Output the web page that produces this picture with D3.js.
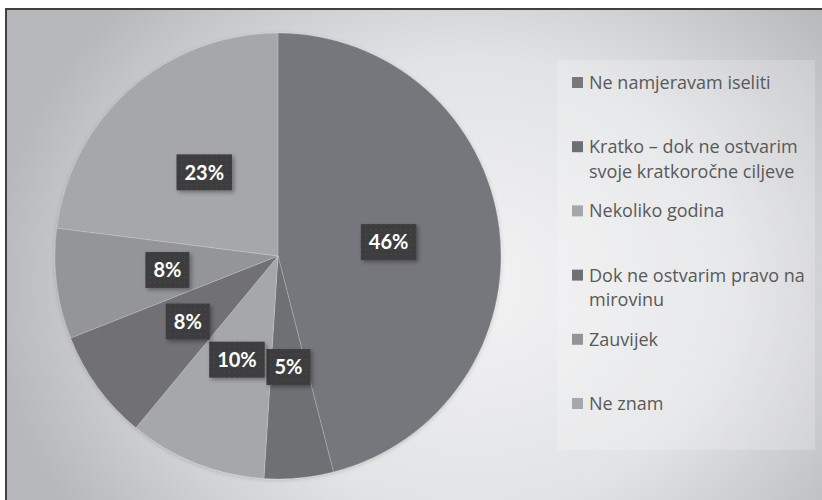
<!DOCTYPE html>
<html>
<head>
<meta charset="utf-8">
<script src="https://cdn.jsdelivr.net/npm/d3@7"></script>
<style>
  html, body { margin: 0; padding: 0; background: #ffffff; }
  svg { display: block; }
</style>
</head>
<body>
<svg id="chart" width="822" height="500"></svg>
<script>
// ---- data ----
const categories = [
  "Ne namjeravam iseliti",
  "Kratko – dok ne ostvarim svoje kratkoročne ciljeve",
  "Nekoliko godina",
  "Dok ne ostvarim pravo na mirovinu",
  "Zauvijek",
  "Ne znam"
];
const legendLines = [
  ["Ne namjeravam iseliti"],
  ["Kratko – dok ne ostvarim", "svoje kratkoročne ciljeve"],
  ["Nekoliko godina"],
  ["Dok ne ostvarim pravo na", "mirovinu"],
  ["Zauvijek"],
  ["Ne znam"]
];
const values = [46, 5, 10, 8, 8, 23];
const valueLabels = ["46%", "5%", "10%", "8%", "8%", "23%"];
const colors = ["#76777b", "#6e6f73", "#a6a7ab", "#6f7074", "#949599", "#a6a7ab"];

// ---- layout ----
const W = 822, H = 500;
const cx = 278, cy = 256, R = 223;

const svg = d3.select("#chart");
const defs = svg.append("defs");

// background gradient
const bg = defs.append("radialGradient")
  .attr("id", "bgGrad")
  .attr("gradientUnits", "userSpaceOnUse")
  .attr("cx", 470).attr("cy", 285).attr("r", 480)
  .attr("gradientTransform", "translate(470,285) scale(1,0.85) translate(-470,-285)");
bg.append("stop").attr("offset", 0).attr("stop-color", "#f3f3f4");
bg.append("stop").attr("offset", 0.55).attr("stop-color", "#e2e3e5");
bg.append("stop").attr("offset", 1).attr("stop-color", "#b7b8bc");

// dotted pattern for label boxes
const pat = defs.append("pattern")
  .attr("id", "dots").attr("patternUnits", "userSpaceOnUse")
  .attr("width", 5).attr("height", 5);
pat.append("rect").attr("width", 5).attr("height", 5).attr("fill", "#3e3e41");
pat.append("rect").attr("x", 2).attr("y", 2).attr("width", 1).attr("height", 1).attr("fill", "#4f4f53");

// shadow filter for label boxes
const sh = defs.append("filter").attr("id", "lblShadow")
  .attr("x", "-30%").attr("y", "-30%").attr("width", "170%").attr("height", "170%");
sh.append("feDropShadow").attr("dx", 2).attr("dy", 2).attr("stdDeviation", 2)
  .attr("flood-color", "#000").attr("flood-opacity", 0.35);

// soft pie shadow
const ps = defs.append("filter").attr("id", "pieShadow")
  .attr("x", "-10%").attr("y", "-10%").attr("width", "120%").attr("height", "120%");
ps.append("feDropShadow").attr("dx", 0).attr("dy", 1).attr("stdDeviation", 2)
  .attr("flood-color", "#000").attr("flood-opacity", 0.18);

// chart frame
svg.append("rect")
  .attr("x", 6).attr("y", 9).attr("width", 840).attr("height", 520)
  .attr("fill", "url(#bgGrad)")
  .attr("stroke", "#404040").attr("stroke-width", 2);

// legend background box
svg.append("rect")
  .attr("x", 557).attr("y", 60).attr("width", 258).attr("height", 390)
  .attr("fill", "#ffffff").attr("fill-opacity", 0.2);

// ---- pie ----
const pie = d3.pie().sort(null).value(d => d)(values);
const arc = d3.arc().innerRadius(0).outerRadius(R);

const g = svg.append("g").attr("transform", `translate(${cx},${cy})`);
g.append("g").attr("filter", "url(#pieShadow)")
  .selectAll("path")
  .data(pie)
  .join("path")
  .attr("d", arc)
  .attr("fill", (d, i) => colors[i])
  .attr("stroke", "rgba(255,255,255,0.25)")
  .attr("stroke-width", 0.75);

// data labels
const lbl = g.selectAll("g.lbl")
  .data(pie)
  .join("g")
  .attr("class", "lbl")
  .attr("transform", d => { const c = arc.centroid(d); return `translate(${c[0]},${c[1]})`; });

lbl.each(function(d, i) {
  const gg = d3.select(this);
  const t = gg.append("text")
    .attr("text-anchor", "middle")
    .attr("dy", "0.36em")
    .style("font-family", "Lato, 'Open Sans', sans-serif")
    .style("font-size", "20px")
    .style("font-weight", "bold")
    .attr("fill", "#ffffff")
    .text(valueLabels[i]);
  const w = t.node().getComputedTextLength();
  gg.insert("rect", "text")
    .attr("x", -w / 2 - 8).attr("y", -18)
    .attr("width", w + 16).attr("height", 36)
    .attr("fill", "url(#dots)")
    .attr("filter", "url(#lblShadow)");
});

// ---- legend ----
const legend = svg.append("g");
const y0 = 89, step = 64.2;
legendLines.forEach((lines, i) => {
  const base = y0 + step * i;
  legend.append("rect")
    .attr("x", 572).attr("y", base - 12)
    .attr("width", 11).attr("height", 11)
    .attr("fill", colors[i]);
  const t = legend.append("text")
    .attr("x", 589).attr("y", base)
    .style("font-family", "'Open Sans', sans-serif")
    .style("font-size", "18px")
    .attr("fill", "#595959");
  lines.forEach((ln, j) => {
    t.append("tspan").attr("x", 589).attr("y", base + j * 24.5).text(ln);
  });
});
</script>
</body>
</html>
